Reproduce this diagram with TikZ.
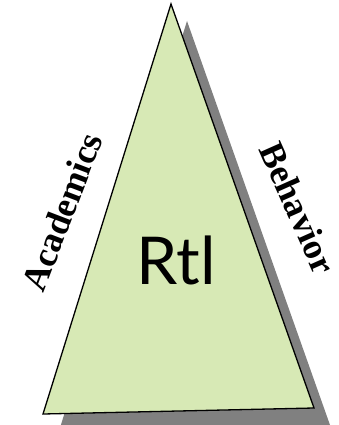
\documentclass[tikz,border=0pt]{standalone}
\usepackage{fontspec}
\setmainfont{Liberation Serif}
\newfontfamily\rtlfont{Lato}
\usepackage{tikz}
\usetikzlibrary{calc}
\definecolor{leaf}{HTML}{D7E9B5}
\definecolor{shadowgray}{HTML}{808080}

\begin{document}
\begin{tikzpicture}[x=1pt,y=-1pt,line join=miter]
  \useasboundingbox (0,0) rectangle (338,425);
  \coordinate (top) at (171,4);
  \coordinate (bl) at (43,414);
  \coordinate (br) at (314,408);
  \fill[shadowgray] ($(top)+(16,17)$) -- ($(bl)+(16,17)$) -- ($(br)+(16,17)$) -- cycle;
  \draw[line width=1.3pt,fill=leaf] (top) -- (bl) -- (br) -- cycle;
  \node[font=\rtlfont\fontsize{66}{66}\selectfont] (rtl) at (176,260) {Rtl};
  \node[font=\bfseries\fontsize{36}{36}\selectfont,rotate=69] (acad) at (62,212) {Academics};
  \node[font=\bfseries\fontsize{36}{36}\selectfont,rotate=-66] (beh) at (298,208) {Behavior};
\end{tikzpicture}
\end{document}
